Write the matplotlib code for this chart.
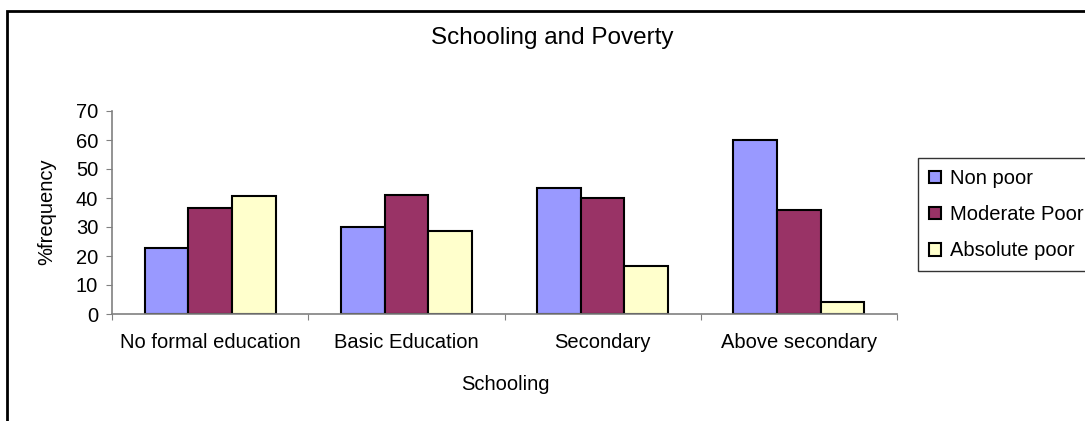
import matplotlib.pyplot as plt
import numpy as np
from matplotlib.patches import Rectangle

plt.rcParams['font.family'] = ['Liberation Sans', 'DejaVu Sans']

categories = ['No formal education', 'Basic Education', 'Secondary', 'Above secondary']
series = {
    'Non poor': [22.7, 30.0, 43.3, 59.9],
    'Moderate Poor': [36.6, 41.2, 40.0, 36.0],
    'Absolute poor': [40.6, 28.5, 16.7, 4.0],
}
colors = ['#9999FF', '#993366', '#FFFFCC']

W, H = 1085, 421
fs = 14.5
fig = plt.figure(figsize=(W / 100, H / 100), dpi=100)

# plot area in pixels: x 112..897, y 111..314
ax = fig.add_axes([112 / W, 1 - 314 / H, (897 - 112) / W, (314 - 111) / H])

x = np.arange(len(categories))
width = 1 / 4.5
for i, (name, vals) in enumerate(series.items()):
    ax.bar(x + (i - 1) * width, vals, width, label=name, color=colors[i],
           edgecolor='black', linewidth=1.5)

ax.set_xlim(-0.5, len(categories) - 0.5)
ax.set_ylim(0, 70)
ax.set_yticks(range(0, 71, 10))
ax.set_xticks(np.arange(-0.5, len(categories), 1.0))
ax.set_xticklabels([])
ax.set_xticks(x, minor=True)
ax.set_xticklabels(categories, minor=True)
ax.tick_params(axis='x', which='minor', length=0, pad=14, labelsize=fs)
ax.tick_params(axis='x', which='major', length=4, direction='out', color='#808080')
ax.tick_params(axis='y', length=4, color='#808080', labelsize=fs, pad=6)
for side in ['top', 'right']:
    ax.spines[side].set_visible(False)
for side in ['left', 'bottom']:
    ax.spines[side].set_color('#808080')
    ax.spines[side].set_linewidth(1.2)

fig.text(505 / W, 1 - 385 / H, 'Schooling', ha='center', va='center', fontsize=fs)
fig.text(47 / W, 1 - 212 / H, '%frequency', ha='center', va='center',
         rotation=90, fontsize=fs)
fig.text(552 / W, 1 - 38 / H, 'Schooling and Poverty', ha='center', va='center',
         fontsize=17.5)

leg = ax.legend(loc='upper left', bbox_to_anchor=(918 / W, 1 - 158 / H),
                bbox_transform=fig.transFigure, fontsize=fs, frameon=True,
                fancybox=False, edgecolor='black', handlelength=0.6,
                handleheight=0.6, handletextpad=0.45, labelspacing=0.85,
                borderpad=0.55, borderaxespad=0)
leg.get_frame().set_linewidth(1.0)

# chart area border
fig.patches.append(Rectangle((7 / W, -0.1), 1.2, 1 - 11 / H + 0.1,
                             transform=fig.transFigure, fill=False,
                             edgecolor='black', linewidth=2))

fig.savefig('out.png', dpi=100)
